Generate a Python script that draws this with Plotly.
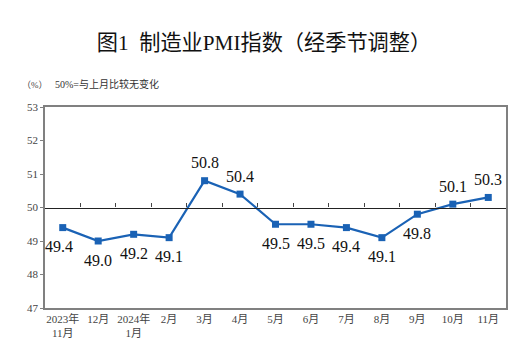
import plotly.graph_objects as go

months = ["2023年<br>11月", "12月", "2024年<br>1月", "2月", "3月", "4月", "5月",
          "6月", "7月", "8月", "9月", "10月", "11月"]
pmi = [49.4, 49.0, 49.2, 49.1, 50.8, 50.4, 49.5, 49.5, 49.4, 49.1, 49.8, 50.1, 50.3]
label_above = [False, False, False, False, True, True, False, False,
               False, False, False, True, True]
y_ticks = [47, 48, 49, 50, 51, 52, 53]

FONT = "'Liberation Serif', 'Times New Roman', 'Noto Sans CJK SC', serif"
BLUE = "#1a62b5"
FRAME = "#808080"

x_idx = list(range(len(months)))

fig = go.Figure()
fig.add_trace(go.Scatter(
    x=x_idx, y=pmi, mode="lines+markers",
    line=dict(color=BLUE, width=2.2),
    marker=dict(symbol="square", size=7, color=BLUE),
    showlegend=False,
))
# invisible trace on secondary x axis (the 50 line with inner ticks)
fig.add_trace(go.Scatter(x=months, y=[None]*len(months), xaxis="x2",
                         showlegend=False, hoverinfo="skip"))

W, H, L, R, T, B = 523, 351, 45, 17, 107, 40
pw, ph = W - L - R, H - T - B

annotations = []
for i, (v, up) in enumerate(zip(pmi, label_above)):
    annotations.append(dict(
        x=i, y=v, xref="x", yref="y", text=f"{v:.1f}", showarrow=False,
        yshift=18 if up else -19, xshift=-4 if i == 0 else 0,
        font=dict(family=FONT, size=16, color="#111111"),
    ))
annotations += [
    dict(text="（%）", x=(20 - L) / pw, y=(H - B - 85) / ph, xref="paper", yref="paper",
         xanchor="left", yanchor="middle", showarrow=False,
         font=dict(family=FONT, size=9, color="#444444")),
    dict(text="50%=与上月比较无变化", x=(53 - L) / pw, y=(H - B - 84) / ph,
         xref="paper", yref="paper", xanchor="left", yanchor="middle", showarrow=False,
         font=dict(family=FONT, size=10, color="#333333")),
]

fig.update_layout(
    width=W, height=H,
    margin=dict(l=L, r=R, t=T, b=B),
    paper_bgcolor="white", plot_bgcolor="white",
    font=dict(family=FONT, color="#333333"),
    title=dict(text="图1  制造业PMI指数（经季节调整）", x=(264 - L) / pw, xanchor="center",
               y=1 - 43/351, yanchor="middle", xref="paper",
               font=dict(family=FONT, size=21.2, color="#111111")),
    xaxis=dict(
        range=[-0.5, len(months) - 0.5],
        tickmode="array", tickvals=x_idx, ticktext=months,
        showgrid=False, zeroline=False,
        showline=True, linecolor=FRAME, linewidth=1.5, mirror=True,
        ticks="", tickfont=dict(size=11, color="#444444"),
    ),
    xaxis2=dict(
        overlaying="x", anchor="free", position=0.5, side="bottom",
        type="category", tickson="boundaries",
        range=[-0.5, len(months) - 0.5],
        showline=True, linecolor="#222222", linewidth=1.2,
        ticks="inside", ticklen=4, tickcolor="#444444",
        showticklabels=False, showgrid=False,
    ),
    yaxis=dict(
        range=[47, 53], tickvals=y_ticks,
        showgrid=False, zeroline=False,
        showline=True, linecolor=FRAME, linewidth=1.5, mirror=True,
        ticks="outside", ticklen=3, tickcolor=FRAME,
        tickfont=dict(size=11, color="#444444"),
    ),
    annotations=annotations,
)

fig.write_html("out.html")
